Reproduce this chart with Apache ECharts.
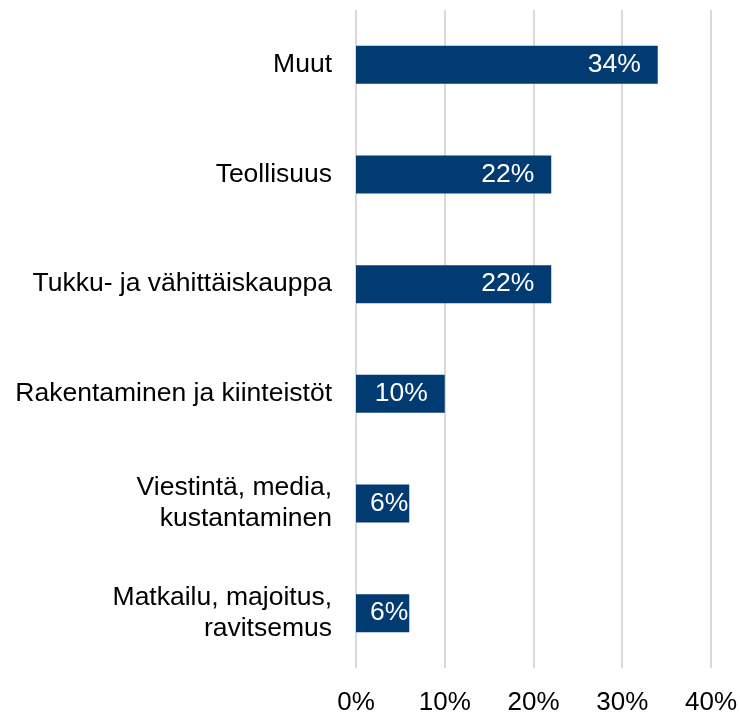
<!DOCTYPE html>
<html>
<head>
<meta charset="utf-8">
<script src="https://cdn.jsdelivr.net/npm/echarts@6/dist/echarts.min.js"></script>
<style>
    html, body { margin: 0; padding: 0; background: #fff; }
    #chart { width: 740px; height: 716px; }
</style>
</head>
<body>
<div id="chart"></div>
<script>
// toimialat ja osuudet (%)
const categories = [
    "Muut",
    "Teollisuus",
    "Tukku- ja vähittäiskauppa",
    "Rakentaminen ja kiinteistöt",
    "Viestintä, media,\nkustantaminen",
    "Matkailu, majoitus,\nravitsemus"
];
const shares = [34, 22, 22, 10, 6, 6];
const tickValues = [0, 10, 20, 30, 40];

const font = "Liberation Sans, Arial, sans-serif";

const myChart = echarts.init(document.getElementById("chart"));
const options = {
    animation: false,
    grid: {
        left: 356,
        right: 28,
        top: 10,
        bottom: 43
    },
    xAxis: {
        type: "value",
        min: tickValues[0],
        max: tickValues[tickValues.length - 1],
        interval: 10,
        axisLine: { show: false },
        axisTick: { show: false },
        axisLabel: {
            formatter: "{value}%",
            color: "#000",
            fontFamily: font,
            fontSize: 26,
            margin: 22
        },
        splitLine: {
            lineStyle: { color: "#d9d9d9", width: 2 }
        }
    },
    yAxis: {
        type: "category",
        inverse: true,
        data: categories,
        axisLine: { show: false },
        axisTick: { show: false },
        axisLabel: {
            color: "#000",
            fontFamily: font,
            fontSize: 26.5,
            lineHeight: 31,
            margin: 24,
            align: "right"
        }
    },
    series: [
        {
            type: "bar",
            barWidth: 38,
            itemStyle: { color: "#023a72" },
            label: {
                show: true,
                position: "insideRight",
                distance: 17,
                formatter: "{c}%",
                color: "#fff",
                fontFamily: font,
                fontSize: 26.5
            },
            data: shares.map(v => (v < 8 ? { value: v, label: { distance: 1 } } : v))
        }
    ]
};
myChart.setOption(options);
window.addEventListener("resize", () => myChart.resize());
</script>
</body>
</html>
